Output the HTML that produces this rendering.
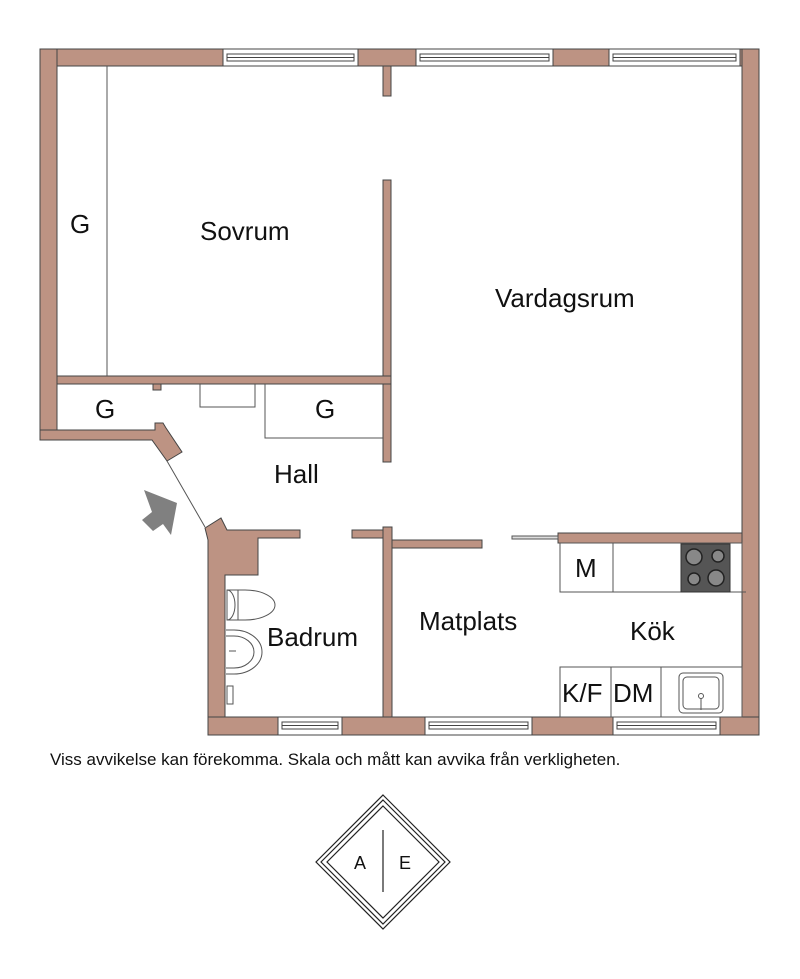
<!DOCTYPE html>
<html><head><meta charset="utf-8"><style>
html,body{margin:0;padding:0;background:#fff;}
svg{display:block;font-family:"Liberation Sans",sans-serif;}
</style></head><body>
<svg width="800" height="979" viewBox="0 0 800 979" xmlns="http://www.w3.org/2000/svg">
<g fill="#bd9383" stroke="#444" stroke-width="1">
<rect x="40" y="49" width="183" height="17"/>
<rect x="358" y="49" width="58" height="17"/>
<rect x="553" y="49" width="56" height="17"/>
<rect x="740" y="49" width="19" height="17"/>
<rect x="40" y="49" width="17" height="391"/>
<rect x="742" y="49" width="17" height="686"/>
<rect x="383" y="66" width="8" height="30"/>
<rect x="383" y="180" width="8" height="282"/>
<rect x="57" y="376" width="334" height="8"/>
<rect x="153" y="384" width="8" height="6"/>
<polygon points="40,430 155,430 155,423 163,423 166,428 182,452 167,461 152,440 40,440"/>
<polygon points="205,528 221,518 227,530 300,530 300,538 258,538 258,575 225,575 225,717 208,717 208,540"/>
<rect x="352" y="530" width="40" height="8"/>
<rect x="383" y="527" width="9" height="208"/>
<rect x="392" y="540" width="90" height="8"/>
<rect x="558" y="533" width="184" height="10"/>
<rect x="208" y="717" width="70" height="18"/>
<rect x="342" y="717" width="83" height="18"/>
<rect x="532" y="717" width="81" height="18"/>
<rect x="720" y="717" width="39" height="18"/>
</g>
<g fill="#fff" stroke="#444" stroke-width="1">
<rect x="223" y="49" width="135" height="17"/><rect x="227" y="54" width="127" height="7"/><line x1="227" y1="57.5" x2="354" y2="57.5"/>
<rect x="416" y="49" width="137" height="17"/><rect x="420" y="54" width="129" height="7"/><line x1="420" y1="57.5" x2="549" y2="57.5"/>
<rect x="609" y="49" width="131" height="17"/><rect x="613" y="54" width="123" height="7"/><line x1="613" y1="57.5" x2="736" y2="57.5"/>
<rect x="278" y="717" width="64" height="18"/><rect x="282" y="722" width="56" height="7"/><line x1="282" y1="725.5" x2="338" y2="725.5"/>
<rect x="425" y="717" width="107" height="18"/><rect x="429" y="722" width="99" height="7"/><line x1="429" y1="725.5" x2="528" y2="725.5"/>
<rect x="613" y="717" width="107" height="18"/><rect x="617" y="722" width="99" height="7"/><line x1="617" y1="725.5" x2="716" y2="725.5"/>
</g>
<g fill="none" stroke="#555" stroke-width="1">
<line x1="107" y1="66" x2="107" y2="376"/>
<polyline points="200,384 200,407 255,407 255,384"/>
<polyline points="265,384 265,438 383,438"/>
<line x1="167" y1="461" x2="205" y2="527"/>
<rect x="512" y="536" width="46" height="3" fill="#ddd"/>
<rect x="560" y="543" width="182" height="49"/>
<line x1="613" y1="543" x2="613" y2="592"/>
<line x1="742" y1="592" x2="746" y2="592"/>
<rect x="560" y="667" width="182" height="50"/>
<line x1="611" y1="667" x2="611" y2="717"/>
<line x1="661" y1="667" x2="661" y2="717"/>
<rect x="679" y="673" width="44" height="40" rx="4"/>
<rect x="683" y="677" width="36" height="32" rx="4"/>
<circle cx="701" cy="696" r="2.5"/><line x1="701" y1="698" x2="701" y2="710"/>
<path d="M227,590 h18 a30,15 0 0 1 0,30 h-18 z"/>
<path d="M227,590 a8,15 0 0 1 0,30"/>
<line x1="238" y1="590" x2="238" y2="620"/>
<path d="M226,630 h8 a28,22 0 0 1 0,44 h-8"/>
<path d="M226,636 h8 a20,16 0 0 1 0,32 h-8"/>
<line x1="229" y1="651" x2="236" y2="651"/>
<rect x="227" y="686" width="6" height="18"/>
</g>
<rect x="681" y="544" width="49" height="48" fill="#555" stroke="#333"/>
<g fill="#888" stroke="#222" stroke-width="1.5">
<circle cx="694" cy="557" r="8"/><circle cx="718" cy="556" r="6"/>
<circle cx="694" cy="579" r="6"/><circle cx="716" cy="578" r="8"/>
</g>
<polygon points="144,490 177,503 171,535 163,524 153,531 142,520 152,512" fill="#808080"/>
<g fill="#111" font-size="26">
<text x="70" y="233">G</text>
<text x="200" y="240">Sovrum</text>
<text x="495" y="307">Vardagsrum</text>
<text x="95" y="418">G</text>
<text x="315" y="418">G</text>
<text x="274" y="483">Hall</text>
<text x="575" y="577">M</text>
<text x="419" y="630">Matplats</text>
<text x="630" y="640">Kök</text>
<text x="267" y="646">Badrum</text>
<text x="562" y="702">K/F</text>
<text x="613" y="702">DM</text>
</g>
<text x="50" y="765" font-size="17" fill="#111">Viss avvikelse kan förekomma. Skala och mått kan avvika från verkligheten.</text>
<g fill="none" stroke="#222" stroke-width="1.2">
<polygon points="383,795 450,862 383,929 316,862"/>
<polygon points="383,800 445,862 383,924 321,862"/>
<polygon points="383,806 439,862 383,918 327,862"/>
<line x1="383" y1="830" x2="383" y2="892"/>
</g>
<text x="354" y="869" font-size="18" fill="#111">A</text>
<text x="399" y="869" font-size="18" fill="#111">E</text>
</svg>
</body></html>
